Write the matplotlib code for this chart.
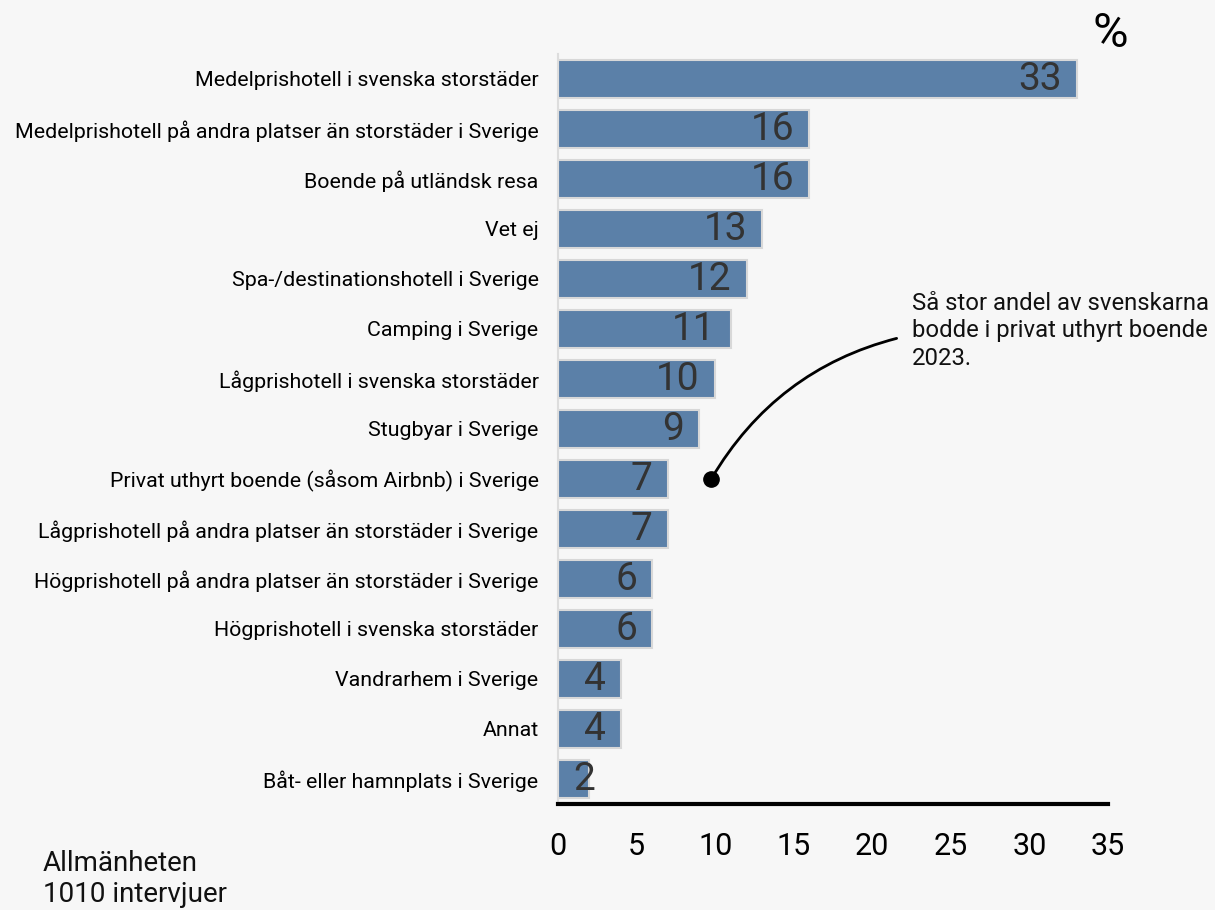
import matplotlib
matplotlib.use("Agg")
import matplotlib.pyplot as plt

categories = [
    "Medelprishotell i svenska storstäder",
    "Medelprishotell på andra platser än storstäder i Sverige",
    "Boende på utländsk resa",
    "Vet ej",
    "Spa-/destinationshotell i Sverige",
    "Camping i Sverige",
    "Lågprishotell i svenska storstäder",
    "Stugbyar i Sverige",
    "Privat uthyrt boende (såsom Airbnb) i Sverige",
    "Lågprishotell på andra platser än storstäder i Sverige",
    "Högprishotell på andra platser än storstäder i Sverige",
    "Högprishotell i svenska storstäder",
    "Vandrarhem i Sverige",
    "Annat",
    "Båt- eller hamnplats i Sverige",
]
values = [33, 16, 16, 13, 12, 11, 10, 9, 7, 7, 6, 6, 4, 4, 2]
xticks = [0, 5, 10, 15, 20, 25, 30, 35]

annot_text = "Så stor andel av svenskarna\nbodde i privat uthyrt boende\n2023."
annot_row = categories.index("Privat uthyrt boende (såsom Airbnb) i Sverige")

plt.rcParams['font.family'] = ['Roboto', 'DejaVu Sans']
bg = '#f7f7f7'
bar_color = '#5b80a8'

fig = plt.figure(figsize=(12.15, 9.1), dpi=100, facecolor=bg)
ax = fig.add_axes([0.4593, 0.1165, 0.4526, 0.8242], facecolor=bg)

y = list(range(len(values)))
ax.barh(y, values, height=0.76, color=bar_color, edgecolor='#d8d8d8', linewidth=1.5)

# value labels sit inside the bar end; too-short bars get them from the left
for yi, v in zip(y, values):
    if v < 3:
        ax.annotate(str(v), (0, yi), xytext=(11, -0.5), textcoords='offset points',
                    ha='left', va='center', fontsize=28, color='#333333')
    else:
        ax.annotate(str(v), (v, yi), xytext=(-11, -0.5), textcoords='offset points',
                    ha='right', va='center', fontsize=28, color='#333333')

ax.set_ylim(len(values) - 0.5, -0.5)
ax.set_xlim(0, 35)
ax.set_xticks(xticks)
ax.set_xticklabels([str(t) for t in xticks])
ax.set_yticks(y)
ax.set_yticklabels(categories)
ax.tick_params(axis='x', length=0, labelsize=22, pad=20)
ax.tick_params(axis='y', length=0, labelsize=15.4, pad=14)

for s in ['top', 'right']:
    ax.spines[s].set_visible(False)
ax.spines['left'].set_color('#dddddd')
ax.spines['left'].set_linewidth(1.5)
ax.spines['bottom'].set_color('black')
ax.spines['bottom'].set_linewidth(3)

ax.text(1.036, 1.0093, "%", transform=ax.transAxes, ha='right', va='baseline', fontsize=35)

ax.annotate(annot_text, xy=(9.75, annot_row), xytext=(22.5, 5.04),
            ha='left', va='center', fontsize=17.2, color='#111111', linespacing=1.25,
            arrowprops=dict(arrowstyle='-', color='black', lw=2,
                            connectionstyle='arc3,rad=0.22', relpos=(0, 0.45),
                            shrinkA=9, shrinkB=0))
ax.plot([9.75], [annot_row], 'o', color='black', markersize=11, clip_on=False)

fig.text(0.0354, 0.034, "Allmänheten\n1010 intervjuer", ha='left', va='center',
         fontsize=20, color='#111111', linespacing=1.15)

fig.savefig("out.png", dpi=100, facecolor=bg)
